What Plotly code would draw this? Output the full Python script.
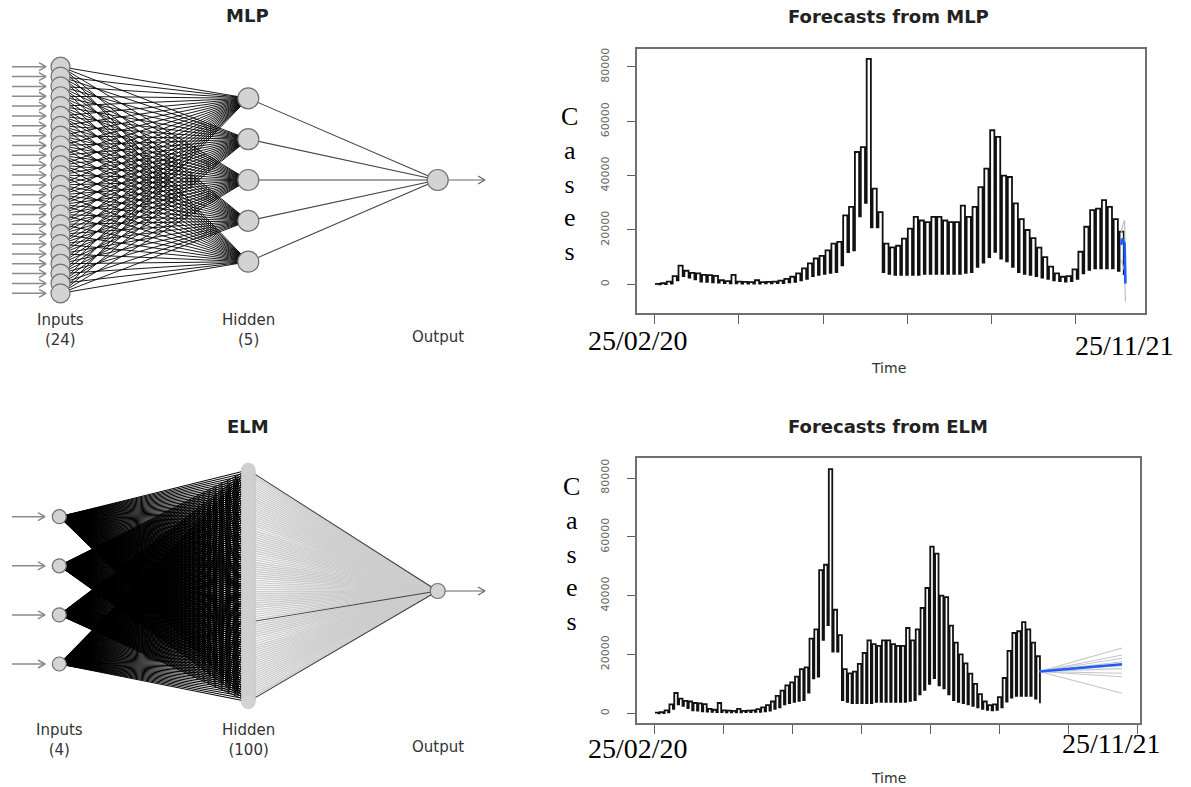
import numpy as np
import plotly.graph_objects as go

W, H = 1191, 787

# ---------------- data ----------------
mlp_sizes = [24, 5, 1]            # inputs, hidden, output
elm_sizes = [4, 100, 1]
elm_strong_hidden = [0, 65, 99]   # ELM hidden units drawn with dark output links

# weekly high / low of daily cases, week 0 starts 25/02/20 (day 0)
week_high = [200, 400, 1000, 3000, 6900, 5000, 4200, 4000, 3500, 3400,
             3100, 1500, 1200, 3500, 1000, 900, 800, 1500, 800, 900,
             1000, 1400, 2000, 2800, 4000, 5900, 7700, 9500, 10500, 12500,
             15000, 15600, 25400, 28500, 48700, 50500, 83000, 35200, 26600, 15000,
             13600, 14200, 16800, 20500, 24800, 23500, 22900, 24800, 24800, 23500,
             22900, 22900, 29000, 24800, 28500, 35800, 42600, 56700, 54300, 40000,
             39500, 29800, 24000, 20000, 17000, 13500, 10000, 6500, 4000, 2800,
             3000, 5500, 12000, 21200, 27300, 27900, 31000, 28500, 24000, 19400]
week_low = [0, 100, 300, 1500, 3000, 2500, 1800, 1000, 900, 700,
            600, 500, 400, 400, 300, 300, 300, 300, 400, 400,
            500, 500, 700, 900, 1500, 2000, 3000, 3500, 3900, 4200,
            4500, 7000, 11900, 12500, 25000, 30000, 21000, 21000, 4500, 3900,
            3500, 3500, 3500, 3500, 3500, 3900, 3900, 3900, 3900, 3900,
            3900, 3900, 4200, 4500, 6400, 8000, 10000, 12000, 9500, 8500,
            6400, 4500, 3900, 3500, 3000, 2500, 2000, 1500, 1200, 1000,
            1200, 2000, 4000, 5300, 5900, 5900, 5900, 5900, 5000, 3400]

# MLP forecast (days after start) with ensemble spread
mlp_fc_days = [555, 556, 557, 558, 559, 560]
mlp_fc = [14500, 16800, 16300, 15600, 15000, 300]
mlp_fc_upper = [19000, 21000, 22000, 22800, 23600, 8000]
mlp_fc_lower = [9000, 8000, 7000, 6000, 5000, -6400]

# ELM forecast
elm_fc_days = [557, 572, 587, 602, 617, 632, 647, 662, 677]
elm_fc = [14200, 14500, 14800, 15100, 15400, 15700, 16000, 16300, 16650]
elm_member_start = 14200
elm_member_end = [22200, 19800, 18700, 17500, 16200, 15200, 13600, 12400, 6800]

mlp_ticks = [0, 100, 200, 300, 400, 500]
elm_ticks = [0, 100, 200, 300, 400, 500, 600, 700]
y_ticks = [0, 20000, 40000, 60000, 80000]

# ---------------- helpers ----------------
def px(x):
    return x / W

def py(y):
    return 1 - y / H

# build the comb-like daily series from weekly high/low
sx, sy = [], []
for w, (hi, lo) in enumerate(zip(week_high, week_low)):
    sx += [7 * w, 7 * w + 5]
    sy += [hi, lo]

fig = go.Figure()

# ---------------- network diagrams (pixel coordinates on x3/y3) ----------------
def network(sizes, xs, spans, sizes_px, node_line, dark_out=None, in_tip=45, lw=0.9):
    pos = []
    for n, x, (t, b) in zip(sizes, xs, spans):
        ys = np.linspace(t, b, n) if n > 1 else np.array([(t + b) / 2])
        pos.append([(x, y) for y in ys])
    # input -> hidden
    lx, ly = [], []
    for (x0, y0) in pos[0]:
        for (x1, y1) in pos[1]:
            lx += [x0, x1, None]
            ly += [y0, y1, None]
    fig.add_trace(go.Scatter(x=lx, y=ly, mode="lines", xaxis="x3", yaxis="y3",
                             line=dict(color="black", width=lw), hoverinfo="skip"))
    # hidden -> output
    ox, oy = pos[2][0]
    gx, gy, dx, dy = [], [], [], []
    for i, (x1, y1) in enumerate(pos[1]):
        if dark_out is None or i in dark_out:
            dx += [x1, ox, None]
            dy += [y1, oy, None]
        else:
            gx += [x1, ox, None]
            gy += [y1, oy, None]
    if gx:
        fig.add_trace(go.Scatter(x=gx, y=gy, mode="lines", xaxis="x3", yaxis="y3",
                                 line=dict(color="#cdcdcd", width=1.4), hoverinfo="skip"))
    fig.add_trace(go.Scatter(x=dx, y=dy, mode="lines", xaxis="x3", yaxis="y3",
                             line=dict(color="#444", width=1.1), hoverinfo="skip"))
    # input arrows
    ax_, ay_ = [], []
    for (x0, y0) in pos[0]:
        ax_ += [12, in_tip, None, in_tip - 7, in_tip, in_tip - 7, None]
        ay_ += [y0, y0, None, y0 - 4, y0, y0 + 4, None]
    fig.add_trace(go.Scatter(x=ax_, y=ay_, mode="lines", xaxis="x3", yaxis="y3",
                             line=dict(color="#8a8a8a", width=1.5), hoverinfo="skip"))
    # output arrow
    r_out = sizes_px[2] / 2
    fig.add_trace(go.Scatter(x=[ox + r_out, 485, None, 478, 485, 478],
                             y=[oy, oy, None, oy - 4, oy, oy + 4],
                             mode="lines", xaxis="x3", yaxis="y3",
                             line=dict(color="#666", width=1.2), hoverinfo="skip"))
    # nodes
    for layer, s, nl in zip(pos, sizes_px, node_line):
        fig.add_trace(go.Scatter(x=[p[0] for p in layer], y=[p[1] for p in layer],
                                 mode="markers", xaxis="x3", yaxis="y3",
                                 marker=dict(size=s, color="#d3d3d3",
                                             line=dict(color=nl[0], width=nl[1])),
                                 hoverinfo="skip"))

network(mlp_sizes, [60.5, 248.3, 437.7],
        [(66.7, 293.3), (98.3, 261.7), (180, 180)], [19, 21, 21],
        [("#707070", 1.2)] * 3, in_tip=46, lw=0.9)
network(elm_sizes, [59.3, 248.3, 437.7],
        [(516.7, 664), (470, 701.7), (591, 591)], [14, 14, 15],
        [("#707070", 1.2), ("#c4c4c4", 0.6), ("#707070", 1.2)],
        dark_out=elm_strong_hidden, in_tip=45, lw=1.0)

# ---------------- time series panels ----------------
for xa, ya in (("x", "y"), ("x2", "y2")):
    fig.add_trace(go.Scatter(x=sx, y=sy, mode="lines", xaxis=xa, yaxis=ya,
                             line=dict(color="#111", width=1.8, shape="hv"),
                             hoverinfo="skip"))

# MLP forecast
for band in (mlp_fc_upper, mlp_fc_lower):
    fig.add_trace(go.Scatter(x=mlp_fc_days, y=band, mode="lines", xaxis="x", yaxis="y",
                             line=dict(color="#bdbdbd", width=1.2), hoverinfo="skip"))
fig.add_trace(go.Scatter(x=mlp_fc_days, y=mlp_fc, mode="lines", xaxis="x", yaxis="y",
                         line=dict(color="#1f5bff", width=2.6), hoverinfo="skip"))

# ELM forecast
for e in elm_member_end:
    fig.add_trace(go.Scatter(x=[elm_fc_days[0], elm_fc_days[-1]], y=[elm_member_start, e],
                             mode="lines", xaxis="x2", yaxis="y2",
                             line=dict(color="#c4c4c4", width=1.1), hoverinfo="skip"))
fig.add_trace(go.Scatter(x=elm_fc_days, y=elm_fc, mode="lines", xaxis="x2", yaxis="y2",
                         line=dict(color="#1f5bff", width=2.6), hoverinfo="skip"))

axis_common = dict(showline=True, linecolor="#707070", linewidth=1.6, mirror=True,
                   ticks="outside", tickcolor="#606060", tickwidth=1.2,
                   showgrid=False, zeroline=False)
ytick_font = dict(family="DejaVu Sans", size=11, color="#666")

fig.update_layout(
    width=W, height=H, margin=dict(l=0, r=0, t=0, b=0),
    paper_bgcolor="white", plot_bgcolor="white", showlegend=False,
    xaxis=dict(domain=[px(637), px(1145)], range=[-21.4, 583.3], anchor="y",
               tickvals=mlp_ticks, showticklabels=False, ticklen=9, **axis_common),
    yaxis=dict(domain=[py(313.3), py(49.3)], range=[-10660, 86500], anchor="x",
               tickvals=y_ticks, ticktext=[str(v) for v in y_ticks], tickangle=-90,
               tickfont=ytick_font, ticklen=8, ticklabelstandoff=14, **axis_common),
    xaxis2=dict(domain=[px(637), px(1140)], range=[-26, 703], anchor="y2",
                tickvals=elm_ticks, showticklabels=False, ticklen=9, **axis_common),
    yaxis2=dict(domain=[py(722.7), py(458.3)], range=[-3200, 86700], anchor="x2",
                tickvals=y_ticks, ticktext=[str(v) for v in y_ticks], tickangle=-90,
                tickfont=ytick_font, ticklen=8, ticklabelstandoff=14, **axis_common),
    xaxis3=dict(domain=[0, px(595)], range=[0, 595], anchor="y3", visible=False),
    yaxis3=dict(domain=[0, 1], range=[H, 0], anchor="x3", visible=False),
)

ann = []
def text(x, y, s, size, family="DejaVu Sans", color="#222", bold=False):
    if bold:
        s = "<b>" + s + "</b>"
    ann.append(dict(x=px(x), y=py(y), xref="paper", yref="paper", text=s, showarrow=False,
                    xanchor="center", yanchor="middle",
                    font=dict(family=family, size=size, color=color)))

# diagram titles and labels
text(248, 16, "MLP", 18, bold=True)
text(248, 427, "ELM", 18, bold=True)
text(60.5, 329.5, "Inputs<br>(24)", 15, color="#333")
text(248.3, 329.5, "Hidden<br>(5)", 15, color="#333")
text(437.7, 337, "Output", 15, color="#333")
text(59.3, 740, "Inputs<br>(4)", 15, color="#333")
text(248.3, 740, "Hidden<br>(100)", 15, color="#333")
text(437.7, 747, "Output", 15, color="#333")

# forecast panels
text(888, 17, "Forecasts from MLP", 18, bold=True)
text(888, 427, "Forecasts from ELM", 18, bold=True)
text(888, 368, "Time", 14, color="#333")
text(888, 778, "Time", 14, color="#333")
serif = "Liberation Serif"
text(569, 184, "C<br>a<br>s<br>e<br>s", 26, family=serif, color="black")
text(571, 554, "C<br>a<br>s<br>e<br>s", 26, family=serif, color="black")
text(638, 340, "25/02/20", 28, family=serif, color="black")
text(1124, 345, "25/11/21", 28, family=serif, color="black")
text(638, 748, "25/02/20", 28, family=serif, color="black")
text(1111, 743, "25/11/21", 28, family=serif, color="black")

fig.update_layout(annotations=ann)
fig.write_html("out.html", config={"displayModeBar": False},
               post_script="document.body.style.margin='0';document.body.style.overflow='hidden';")
